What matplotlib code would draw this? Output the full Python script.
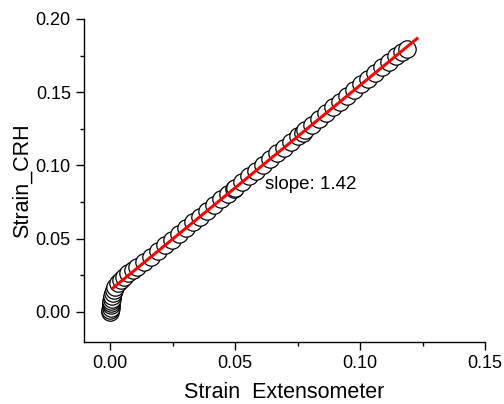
import matplotlib
matplotlib.use("Agg")
import matplotlib.pyplot as plt
import numpy as np

# Measured data (strain from extensometer vs. CRH)
strain_ext = [
    0.0000, 0.0001, 0.0002, 0.0003, 0.0004, 0.0005, 0.0006, 0.0008,
    0.0010, 0.0014, 0.0020, 0.0030, 0.0042, 0.0057, 0.0073, 0.0090,
    0.0108, 0.0136, 0.0164, 0.0192, 0.0220, 0.0248, 0.0276, 0.0304,
    0.0332, 0.0360, 0.0388, 0.0416, 0.0444, 0.0472, 0.0495, 0.0500,
    0.0528, 0.0556, 0.0584, 0.0612, 0.0640, 0.0668, 0.0696, 0.0724,
    0.0752, 0.0770, 0.0780, 0.0808, 0.0836, 0.0864, 0.0892, 0.0920,
    0.0948, 0.0976, 0.1004, 0.1032, 0.1060, 0.1088, 0.1116, 0.1144,
    0.1166, 0.1188,
]
strain_crh = [
    0.0000, 0.0015, 0.0030, 0.0045, 0.0060, 0.0075, 0.0090, 0.0108,
    0.0128, 0.0150, 0.0172, 0.0195, 0.0217, 0.0240, 0.0263, 0.0286,
    0.0310, 0.0340, 0.0378, 0.0416, 0.0455, 0.0494, 0.0533, 0.0573,
    0.0612, 0.0651, 0.0690, 0.0729, 0.0769, 0.0808, 0.0840, 0.0847,
    0.0886, 0.0925, 0.0965, 0.1004, 0.1043, 0.1082, 0.1121, 0.1161,
    0.1200, 0.1225, 0.1239, 0.1278, 0.1317, 0.1357, 0.1396, 0.1435,
    0.1474, 0.1513, 0.1553, 0.1592, 0.1631, 0.1670, 0.1709, 0.1749,
    0.1775, 0.1795,
]

# Linear fit shown in red
fit_x = [0.0012, 0.1228]
fit_slope = 1.40
fit_intercept = 0.0147
slope_label = "slope: 1.42"

plt.rcParams["font.family"] = ["Liberation Sans", "DejaVu Sans"]

fig = plt.figure(figsize=(5.04, 4.04), dpi=100)
ax = fig.add_axes([0.1667, 0.1535, 0.7956, 0.7995])

ax.plot(strain_ext, strain_crh, "o", markersize=12.5, markerfacecolor="white",
        markeredgecolor="black", markeredgewidth=0.9, linestyle="none")
fit_y = [fit_intercept + fit_slope * v for v in fit_x]
ax.plot(fit_x, fit_y, "-", color="red", linewidth=2.2)

ax.text(0.062, 0.087, slope_label, fontsize=13.5, ha="left", va="center")

ax.set_xlim(-0.0104, 0.15)
ax.set_ylim(-0.0205, 0.20)
ax.set_xticks([0.00, 0.05, 0.10, 0.15])
ax.set_yticks([0.00, 0.05, 0.10, 0.15, 0.20])
ax.set_xticks([0.025, 0.075, 0.125], minor=True)
ax.set_yticks([0.025, 0.075, 0.125, 0.175], minor=True)
ax.xaxis.set_major_formatter(plt.FormatStrFormatter("%.2f"))
ax.yaxis.set_major_formatter(plt.FormatStrFormatter("%.2f"))

for side in ["top", "right"]:
    ax.spines[side].set_visible(False)
for side in ["left", "bottom"]:
    ax.spines[side].set_linewidth(1.0)

ax.tick_params(which="major", direction="out", length=6, width=1, labelsize=13)
ax.tick_params(which="minor", direction="out", length=3, width=1)

ax.set_xlabel("Strain  Extensometer", fontsize=15.5, labelpad=7)
ax.set_ylabel("Strain_CRH", fontsize=15.5, labelpad=2)

plt.savefig("out.png", dpi=100)
